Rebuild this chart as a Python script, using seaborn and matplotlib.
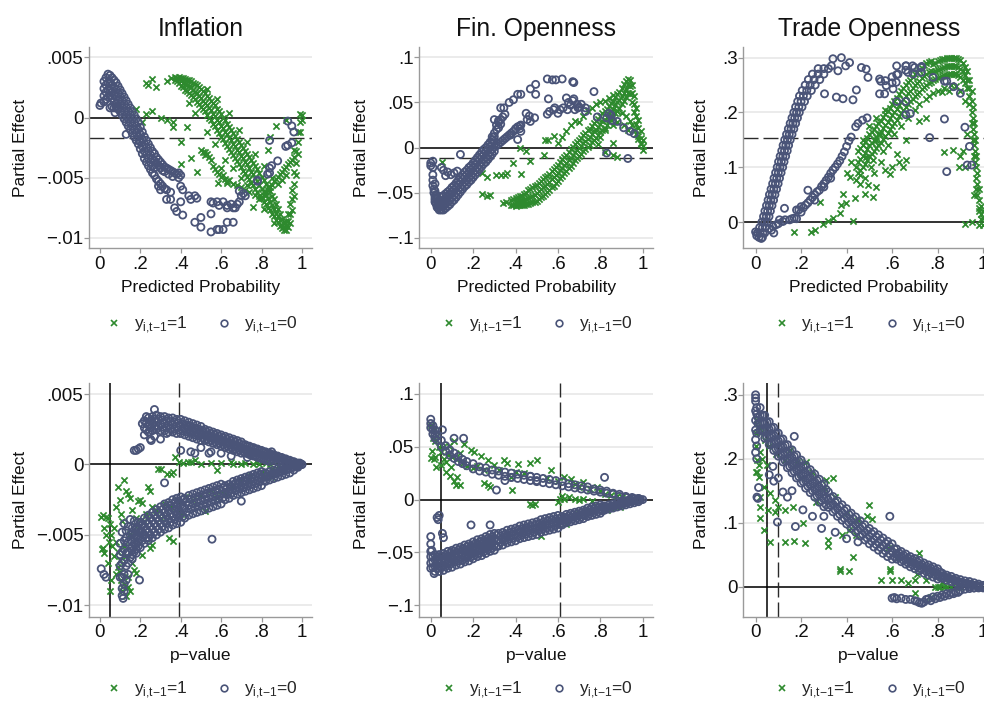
import matplotlib
matplotlib.use("Agg")
import matplotlib.pyplot as plt
import numpy as np
import pandas as pd
import seaborn as sns
from matplotlib.lines import Line2D

GREEN = "#2e8a2e"
NAVY = "#4a5478"

# ---------------- Panel 1: Inflation vs predicted probability ----------------
inf_pp_0_band = [
 (0.02,0.0030),(0.02,0.0024),(0.02,0.0018),(0.02,0.0013),
 (0.03,0.0033),(0.03,0.0027),(0.03,0.0021),(0.03,0.0015),
 (0.04,0.0036),(0.04,0.0029),(0.04,0.0023),(0.04,0.0017),
 (0.05,0.0035),(0.05,0.0029),(0.05,0.0023),(0.05,0.0018),
 (0.06,0.0033),(0.06,0.0027),(0.06,0.0021),(0.06,0.0016),
 (0.07,0.0031),(0.07,0.0025),(0.07,0.0019),(0.07,0.0013),
 (0.08,0.0029),(0.08,0.0023),(0.08,0.0017),(0.08,0.0011),
 (0.09,0.0026),(0.09,0.0020),(0.09,0.0014),(0.09,0.0008),
 (0.10,0.0023),(0.10,0.0017),(0.10,0.0011),(0.10,0.0005),
 (0.11,0.0020),(0.11,0.0014),(0.11,0.0008),(0.11,0.0002),
 (0.12,0.0017),(0.12,0.0011),(0.12,0.0005),(0.12,-0.0001),
 (0.13,0.0014),(0.13,0.0008),(0.13,0.0002),(0.13,-0.0004),
 (0.14,0.0011),(0.14,0.0005),(0.14,-0.0001),(0.14,-0.0007),
 (0.15,0.0008),(0.15,0.0002),(0.15,-0.0004),(0.15,-0.0010),
 (0.16,0.0005),(0.16,-0.0001),(0.16,-0.0007),(0.16,-0.0013),
 (0.17,0.0002),(0.17,-0.0004),(0.17,-0.0010),(0.17,-0.0016),
 (0.18,-0.0001),(0.18,-0.0007),(0.18,-0.0013),(0.18,-0.0019),
 (0.19,-0.0004),(0.19,-0.0010),(0.19,-0.0016),(0.19,-0.0022),
 (0.20,-0.0008),(0.20,-0.0014),(0.20,-0.0020),(0.20,-0.0026),
 (0.21,-0.0012),(0.21,-0.0018),(0.21,-0.0024),(0.21,-0.0030),
 (0.22,-0.0016),(0.22,-0.0022),(0.22,-0.0028),(0.22,-0.0034),
 (0.23,-0.0019),(0.23,-0.0025),(0.23,-0.0031),(0.23,-0.0037),
 (0.24,-0.0022),(0.24,-0.0028),(0.24,-0.0034),(0.24,-0.0040),
 (0.25,-0.0025),(0.25,-0.0031),(0.25,-0.0037),(0.25,-0.0043),
 (0.26,-0.0028),(0.26,-0.0034),(0.26,-0.0040),(0.26,-0.0046),
 (0.27,-0.0030),(0.27,-0.0036),(0.27,-0.0042),(0.27,-0.0048),
 (0.28,-0.0033),(0.28,-0.0038),(0.29,-0.0035),(0.29,-0.0040),(0.30,-0.0037),(0.30,-0.0042),
 (0.31,-0.0039),(0.31,-0.0044),(0.32,-0.0041),(0.32,-0.0045),(0.33,-0.0042),(0.34,-0.0043),
 (0.34,-0.0047),(0.35,-0.0044),(0.36,-0.0045),(0.36,-0.0049),(0.37,-0.0046),(0.38,-0.0047),
 (0.39,-0.0046),(0.39,-0.0050),(0.40,-0.0048),
 (0.28,-0.0051),(0.29,-0.0053),(0.30,-0.0055),(0.31,-0.0057),(0.32,-0.0059),(0.33,-0.0060),
]
inf_pp_0_spread = [
 (0.00,0.0010),(0.005,0.0012),(0.05,0.0008),(0.06,0.0009),(0.07,0.0008),(0.08,0.0009),
 (0.09,0.0007),(0.075,0.0004),(0.13,-0.0014),
 (0.29,-0.0057),(0.30,-0.0060),(0.35,-0.0062),(0.33,-0.0068),(0.35,-0.0068),(0.40,-0.0070),
 (0.37,-0.0075),(0.38,-0.0078),(0.41,-0.0081),(0.40,-0.0057),(0.41,-0.0060),(0.47,-0.0087),
 (0.50,-0.0083),(0.50,-0.0091),(0.44,-0.0065),(0.45,-0.0068),(0.47,-0.0065),(0.48,-0.0067),
 (0.55,-0.0095),(0.58,-0.0093),(0.59,-0.0093),(0.61,-0.0093),(0.55,-0.0080),(0.55,-0.0070),
 (0.56,-0.0071),(0.58,-0.0070),(0.59,-0.0073),(0.61,-0.0070),(0.63,-0.0073),(0.63,-0.0075),
 (0.65,-0.0072),(0.66,-0.0075),(0.67,-0.0075),(0.68,-0.0072),(0.69,-0.0070),(0.63,-0.0087),
 (0.66,-0.0087),(0.69,-0.0061),(0.70,-0.0065),(0.72,-0.0065),(0.71,-0.0063),(0.78,-0.0053),
 (0.78,-0.0052),(0.83,-0.0047),(0.84,-0.0046),(0.84,-0.0042),(0.85,-0.0040),(0.88,-0.0036),
 (0.84,-0.0019),(0.92,-0.0024),(0.93,-0.0023),(0.95,-0.0021),(0.93,-0.0003),(0.95,-0.0007),
 (0.96,-0.0012),
]
inf_pp_1_band = [
 (0.37,0.0034),(0.37,0.0031),(0.38,0.0033),(0.38,0.0030),(0.39,0.0034),(0.39,0.0029),
 (0.40,0.0033),(0.40,0.0030),(0.40,0.0026),(0.41,0.0033),(0.41,0.0029),(0.41,0.0025),
 (0.42,0.0032),(0.42,0.0028),(0.42,0.0023),(0.43,0.0031),(0.43,0.0027),(0.43,0.0022),
 (0.44,0.0031),(0.44,0.0026),(0.44,0.0020),(0.45,0.0030),(0.45,0.0025),(0.45,0.0019),
 (0.46,0.0029),(0.46,0.0023),(0.46,0.0017),(0.47,0.0028),(0.47,0.0021),(0.47,0.0015),
 (0.48,0.0027),(0.48,0.0020),(0.48,0.0013),(0.49,0.0025),(0.49,0.0018),(0.49,0.0011),
 (0.50,0.0024),(0.50,0.0016),(0.50,0.0009),(0.51,0.0022),(0.51,0.0014),(0.51,0.0007),
 (0.52,0.0020),(0.52,0.0012),(0.52,0.0005),(0.53,0.0018),(0.53,0.0010),(0.53,0.0002),
 (0.54,0.0016),(0.54,0.0008),(0.54,0.0000),(0.55,0.0014),(0.55,0.0006),(0.55,-0.0002),
 (0.56,0.0012),(0.56,0.0003),(0.56,-0.0005),(0.57,0.0010),(0.57,0.0001),(0.57,-0.0007),
 (0.58,0.0007),(0.58,-0.0002),(0.58,-0.0010),(0.59,0.0005),(0.59,-0.0004),(0.59,-0.0013),
 (0.60,0.0003),(0.60,-0.0007),(0.60,-0.0016),(0.61,0.0000),(0.61,-0.0009),(0.61,-0.0018),
 (0.62,-0.0002),(0.62,-0.0012),(0.62,-0.0021),(0.63,-0.0005),(0.63,-0.0014),(0.63,-0.0024),
 (0.64,-0.0008),(0.64,-0.0017),(0.64,-0.0026),(0.65,-0.0010),(0.65,-0.0019),(0.65,-0.0029),
 (0.66,-0.0013),(0.66,-0.0022),(0.66,-0.0031),(0.67,-0.0015),(0.67,-0.0024),(0.67,-0.0034),
 (0.68,-0.0018),(0.68,-0.0027),(0.68,-0.0036),(0.69,-0.0020),(0.69,-0.0029),(0.69,-0.0039),
 (0.70,-0.0023),(0.70,-0.0032),(0.70,-0.0041),(0.71,-0.0025),(0.71,-0.0034),(0.71,-0.0044),
 (0.72,-0.0028),(0.72,-0.0037),(0.72,-0.0046),(0.73,-0.0030),(0.73,-0.0039),(0.73,-0.0049),
 (0.74,-0.0033),(0.74,-0.0042),(0.74,-0.0051),(0.75,-0.0035),(0.75,-0.0045),(0.75,-0.0054),
 (0.76,-0.0038),(0.76,-0.0047),(0.76,-0.0056),(0.77,-0.0040),(0.77,-0.0050),(0.77,-0.0059),
 (0.78,-0.0043),(0.78,-0.0053),(0.78,-0.0062),(0.79,-0.0046),(0.79,-0.0056),(0.79,-0.0065),
 (0.80,-0.0049),(0.80,-0.0059),(0.80,-0.0067),(0.81,-0.0052),(0.81,-0.0062),(0.81,-0.0070),
 (0.82,-0.0055),(0.82,-0.0064),(0.82,-0.0072),(0.83,-0.0058),(0.83,-0.0067),(0.83,-0.0075),
 (0.84,-0.0061),(0.84,-0.0070),(0.84,-0.0077),(0.85,-0.0065),(0.85,-0.0073),(0.85,-0.0080),
 (0.86,-0.0068),(0.86,-0.0076),(0.86,-0.0082),(0.87,-0.0072),(0.87,-0.0079),(0.87,-0.0085),
 (0.88,-0.0076),(0.88,-0.0082),(0.88,-0.0087),(0.89,-0.0080),(0.89,-0.0085),(0.89,-0.0090),
 (0.90,-0.0084),(0.90,-0.0089),(0.90,-0.0092),(0.91,-0.0087),(0.91,-0.0091),(0.91,-0.0093),
 (0.92,-0.0086),(0.92,-0.0090),(0.92,-0.0093),(0.93,-0.0080),(0.93,-0.0086),(0.93,-0.0091),
 (0.94,-0.0072),(0.94,-0.0080),(0.94,-0.0088),(0.95,-0.0060),(0.95,-0.0068),(0.95,-0.0077),
 (0.96,-0.0045),(0.96,-0.0055),(0.96,-0.0065),(0.97,-0.0028),(0.97,-0.0038),(0.97,-0.0048),
 (0.98,-0.0012),(0.98,-0.0020),(0.98,-0.0030),(0.99,0.0003),(0.99,-0.0004),(0.99,-0.0012),
 (1.00,0.0002),(1.00,-0.0002),
 (0.50,-0.0027),(0.51,-0.0029),(0.52,-0.0031),(0.53,-0.0030),(0.54,-0.0033),(0.55,-0.0035),
 (0.56,-0.0040),(0.57,-0.0043),(0.58,-0.0045),(0.59,-0.0047),(0.60,-0.0049),(0.61,-0.0048),
 (0.62,-0.0051),(0.63,-0.0053),(0.64,-0.0052),(0.66,-0.0055),(0.68,-0.0056),(0.70,-0.0058),
 (0.72,-0.0060),(0.74,-0.0062),
 (0.79,-0.0068),(0.80,-0.0066),(0.81,-0.0064),(0.82,-0.0062),(0.83,-0.0060),(0.84,-0.0058),
 (0.85,-0.0056),(0.86,-0.0053),(0.87,-0.0051),(0.88,-0.0049),(0.89,-0.0047),(0.90,-0.0045),
 (0.91,-0.0043),(0.92,-0.0041),(0.93,-0.0039),(0.94,-0.0037),(0.95,-0.0035),(0.96,-0.0033),
 (0.85,-0.0050),(0.88,-0.0055),(0.90,-0.0052),(0.92,-0.0048),
]
inf_pp_1_spread = [
 (0.23,0.0029),(0.26,0.0032),(0.28,0.0025),(0.24,0.0027),(0.18,0.0007),(0.21,-0.0004),
 (0.23,0.0003),(0.26,0.0005),(0.30,0.0000),(0.33,-0.0002),(0.36,-0.0004),(0.36,-0.0008),
 (0.43,-0.0008),(0.40,-0.0020),(0.40,-0.0039),(0.45,-0.0034),(0.48,-0.0045),(0.52,-0.0029),
 (0.585,-0.0054),(0.63,-0.0054),(0.60,-0.0042),(0.76,-0.0074),(0.83,-0.0027),(0.87,-0.0007),
 (0.84,-0.0016),(0.92,-0.0002),(0.96,-0.0027),(0.35,0.0033),(0.33,0.0030),
 (0.44,0.0012),(0.47,0.0004),(0.53,-0.0012),(0.57,-0.0022),(0.62,-0.0035),(0.66,-0.0042),
 (0.70,-0.0050),(0.73,-0.0056),(0.77,-0.0064),(0.81,-0.0076),(0.86,-0.0088),(0.53,0.0024),
 (0.58,0.0015),(0.64,0.0004),(0.69,-0.0010),(0.73,-0.0020),(0.77,-0.0030),(0.81,-0.0040),
]

# ---------------- Panel 2: Fin. Openness vs predicted probability ----------------
fin_pp_0_band = [
 (0.00,-0.017),(0.00,-0.020),(0.01,-0.015),(0.01,-0.022),(0.01,-0.030),(0.01,-0.036),
 (0.01,-0.042),(0.015,-0.046),(0.015,-0.050),(0.02,-0.054),(0.02,-0.057),(0.02,-0.060),
 (0.025,-0.062),(0.03,-0.064),(0.03,-0.066),(0.035,-0.067),(0.04,-0.069),(0.02,-0.048),
 (0.02,-0.040),(0.025,-0.052),(0.03,-0.056),(0.035,-0.059),(0.04,-0.062),
 (0.05,-0.054),(0.05,-0.059),(0.05,-0.065),(0.05,-0.069),
 (0.06,-0.053),(0.06,-0.058),(0.06,-0.064),(0.06,-0.069),
 (0.07,-0.051),(0.07,-0.056),(0.07,-0.062),(0.07,-0.067),
 (0.08,-0.049),(0.08,-0.054),(0.08,-0.060),(0.08,-0.065),
 (0.09,-0.047),(0.09,-0.052),(0.09,-0.058),(0.09,-0.063),
 (0.10,-0.044),(0.10,-0.049),(0.10,-0.055),(0.10,-0.060),
 (0.11,-0.042),(0.11,-0.047),(0.11,-0.053),(0.11,-0.058),
 (0.12,-0.039),(0.12,-0.044),(0.12,-0.050),(0.12,-0.055),
 (0.13,-0.036),(0.13,-0.041),(0.13,-0.047),(0.13,-0.052),
 (0.14,-0.033),(0.14,-0.038),(0.14,-0.044),(0.14,-0.049),
 (0.15,-0.030),(0.15,-0.035),(0.15,-0.041),(0.15,-0.046),
 (0.16,-0.027),(0.16,-0.032),(0.16,-0.038),(0.16,-0.043),
 (0.17,-0.025),(0.17,-0.030),(0.17,-0.036),(0.17,-0.041),
 (0.18,-0.022),(0.18,-0.027),(0.18,-0.033),(0.18,-0.038),
 (0.19,-0.020),(0.19,-0.025),(0.19,-0.031),(0.19,-0.036),
 (0.20,-0.017),(0.20,-0.022),(0.20,-0.028),(0.20,-0.033),
 (0.21,-0.014),(0.21,-0.019),(0.21,-0.025),(0.21,-0.030),
 (0.22,-0.011),(0.22,-0.016),(0.22,-0.022),(0.22,-0.027),
 (0.23,-0.008),(0.23,-0.013),(0.23,-0.019),(0.23,-0.024),
 (0.24,-0.005),(0.24,-0.010),(0.24,-0.016),(0.24,-0.021),
 (0.25,-0.002),(0.25,-0.007),(0.25,-0.013),(0.25,-0.018),
 (0.26,0.000),(0.26,-0.005),(0.26,-0.011),(0.26,-0.016),
 (0.27,0.003),(0.27,-0.002),(0.27,-0.008),(0.27,-0.013),
 (0.28,0.006),(0.28,0.001),(0.28,-0.005),(0.28,-0.010),
 (0.29,0.009),(0.29,0.004),(0.29,-0.002),(0.29,-0.007),
 (0.30,0.012),(0.30,0.007),(0.30,0.001),(0.30,-0.004),
 (0.29,0.012),(0.30,0.016),(0.31,0.020),(0.31,0.025),(0.32,0.028),(0.32,0.022),
 (0.33,0.031),(0.33,0.026),(0.34,0.034),(0.35,0.037),
 (0.31,0.002),(0.32,0.004),(0.33,0.006),(0.34,0.008),(0.35,0.010),(0.36,0.012),
 (0.37,0.014),(0.38,0.016),(0.39,0.018),(0.40,0.021),(0.41,0.023),(0.42,0.024),
]
fin_pp_0_spread = [
 (0.05,-0.022),(0.06,-0.025),(0.08,-0.027),(0.095,-0.030),(0.11,-0.028),(0.125,-0.026),
 (0.14,-0.0075),(0.07,-0.031),
 (0.30,0.031),(0.32,0.030),(0.33,0.044),(0.345,0.044),(0.37,0.050),(0.39,0.053),(0.41,0.059),
 (0.425,0.059),(0.47,0.065),(0.495,0.070),(0.495,0.059),(0.55,0.076),(0.574,0.075),(0.59,0.075),
 (0.62,0.076),(0.67,0.073),(0.675,0.072),(0.555,0.054),(0.64,0.055),(0.65,0.050),(0.67,0.052),
 (0.675,0.054),(0.69,0.048),(0.71,0.048),(0.73,0.044),(0.73,0.040),(0.77,0.062),(0.55,0.037),
 (0.56,0.040),(0.58,0.042),(0.585,0.044),(0.61,0.042),(0.625,0.044),(0.645,0.042),(0.68,0.042),
 (0.695,0.044),(0.45,0.038),(0.465,0.035),(0.49,0.033),(0.47,0.029),(0.455,0.031),(0.425,0.025),
 (0.42,0.021),(0.425,0.018),(0.41,0.009),(0.377,0.014),(0.60,0.038),(0.66,0.047),(0.70,0.045),
 (0.786,0.034),(0.83,0.033),(0.856,0.030),(0.88,0.029),(0.91,0.022),(0.94,0.018),(0.96,0.0155),
 (0.83,-0.006),(0.93,-0.012),(0.85,0.036),(0.84,0.038),
]
fin_pp_1_band = [
 (0.38,-0.058),(0.38,-0.063),(0.39,-0.057),(0.39,-0.064),(0.40,-0.056),(0.40,-0.060),(0.40,-0.065),
 (0.41,-0.055),(0.41,-0.060),(0.41,-0.064),(0.42,-0.054),(0.42,-0.059),(0.42,-0.064),
 (0.43,-0.053),(0.43,-0.059),(0.43,-0.063),(0.44,-0.051),(0.44,-0.058),(0.44,-0.063),
 (0.45,-0.050),(0.45,-0.057),(0.45,-0.062),
 (0.46,-0.047),(0.46,-0.056),(0.46,-0.062),(0.47,-0.046),(0.47,-0.055),(0.47,-0.061),
 (0.48,-0.044),(0.48,-0.053),(0.48,-0.060),(0.49,-0.043),(0.49,-0.052),(0.49,-0.060),
 (0.50,-0.041),(0.50,-0.050),(0.50,-0.059),(0.51,-0.039),(0.51,-0.048),(0.51,-0.057),
 (0.52,-0.037),(0.52,-0.046),(0.52,-0.055),(0.53,-0.035),(0.53,-0.044),(0.53,-0.053),
 (0.54,-0.033),(0.54,-0.042),(0.54,-0.051),(0.55,-0.031),(0.55,-0.040),(0.55,-0.049),
 (0.56,-0.029),(0.56,-0.038),(0.56,-0.047),(0.57,-0.026),(0.57,-0.035),(0.57,-0.044),
 (0.58,-0.024),(0.58,-0.033),(0.58,-0.042),(0.59,-0.021),(0.59,-0.030),(0.59,-0.039),
 (0.60,-0.019),(0.60,-0.028),(0.60,-0.037),(0.61,-0.016),(0.61,-0.025),(0.61,-0.034),
 (0.62,-0.013),(0.62,-0.022),(0.62,-0.031),(0.63,-0.010),(0.63,-0.019),(0.63,-0.028),
 (0.64,-0.008),(0.64,-0.017),(0.64,-0.026),(0.65,-0.005),(0.65,-0.014),(0.65,-0.023),
 (0.66,-0.002),(0.66,-0.011),(0.66,-0.020),(0.67,0.001),(0.67,-0.008),(0.67,-0.017),
 (0.68,0.004),(0.68,-0.005),(0.68,-0.014),(0.69,0.006),(0.69,-0.003),(0.69,-0.012),
 (0.70,0.009),(0.70,0.000),(0.70,-0.009),(0.71,0.011),(0.71,0.002),(0.71,-0.007),
 (0.72,0.014),(0.72,0.005),(0.72,-0.004),(0.73,0.016),(0.73,0.007),(0.73,-0.002),
 (0.74,0.019),(0.74,0.010),(0.74,0.001),(0.75,0.021),(0.75,0.012),(0.75,0.003),
 (0.76,0.024),(0.76,0.015),(0.76,0.006),(0.77,0.027),(0.77,0.018),(0.77,0.009),
 (0.78,0.029),(0.78,0.020),(0.78,0.011),(0.79,0.032),(0.79,0.023),(0.79,0.014),
 (0.80,0.035),(0.80,0.026),(0.80,0.017),(0.81,0.038),(0.81,0.029),(0.81,0.020),
 (0.82,0.040),(0.82,0.031),(0.82,0.022),(0.83,0.043),(0.83,0.034),(0.83,0.025),
 (0.84,0.046),(0.84,0.037),(0.84,0.028),(0.85,0.049),(0.85,0.040),(0.85,0.031),
 (0.86,0.052),(0.86,0.043),(0.86,0.034),(0.87,0.056),(0.87,0.047),(0.87,0.038),
 (0.88,0.059),(0.88,0.050),(0.88,0.041),(0.89,0.062),(0.89,0.053),(0.89,0.044),
 (0.90,0.066),(0.90,0.057),(0.90,0.048),(0.91,0.070),(0.91,0.061),(0.91,0.052),
 (0.92,0.074),(0.92,0.065),(0.92,0.056),(0.93,0.076),(0.93,0.069),(0.93,0.060),
 (0.94,0.075),(0.94,0.068),(0.94,0.059),(0.95,0.069),(0.95,0.060),(0.95,0.051),
 (0.96,0.057),(0.96,0.048),(0.96,0.039),(0.97,0.044),(0.97,0.035),(0.97,0.026),
 (0.98,0.031),(0.98,0.022),(0.98,0.013),(0.99,0.018),(0.99,0.011),(0.99,0.004),
 (1.00,0.008),(1.00,0.002),(1.00,-0.003),
]
fin_pp_1_spread = [
 (0.055,-0.016),(0.244,-0.028),(0.267,-0.032),(0.31,-0.030),(0.33,-0.030),(0.35,-0.030),
 (0.36,-0.028),(0.425,-0.029),(0.244,-0.051),(0.267,-0.054),(0.28,-0.052),(0.34,-0.061),
 (0.355,-0.060),(0.42,-0.0003),(0.45,-0.004),(0.39,-0.017),(0.47,-0.015),(0.535,-0.0077),
 (0.54,0.009),(0.555,0.008),(0.58,0.013),(0.60,0.005),(0.62,0.012),(0.64,0.018),(0.66,0.025),
 (0.68,0.030),(0.70,0.028),(0.72,0.035),(0.74,0.040),(0.76,0.044),(0.78,0.048),(0.80,0.050),
 (0.82,0.052),(0.84,0.055),(0.86,0.058),(0.85,0.035),(0.88,0.040),(0.90,0.038),(0.92,0.035),
 (0.94,0.030),(0.95,0.025),(0.96,0.020),(0.97,0.015),(0.98,0.010),(0.99,0.005),(0.88,0.028),
 (0.91,0.025),(0.93,0.020),(0.86,0.025),(0.82,0.020),(0.80,0.012),(0.79,0.004),(0.82,-0.005),
 (0.86,0.0055),(0.86,-0.008),(0.88,-0.010),
]

# ---------------- Panel 3: Trade Openness vs predicted probability ----------------
trd_pp_0_band = [
 (0.008,-0.02),(0.020,-0.02),(0.032,-0.02),(0.018,-0.01),(0.030,-0.01),(0.042,-0.01),
 (0.028,0.00),(0.040,0.00),(0.052,0.00),(0.035,0.01),(0.047,0.01),(0.059,0.01),
 (0.041,0.02),(0.053,0.02),(0.065,0.02),(0.048,0.03),(0.060,0.03),(0.072,0.03),
 (0.055,0.04),(0.067,0.04),(0.079,0.04),(0.061,0.05),(0.073,0.05),(0.085,0.05),
 (0.068,0.06),(0.080,0.06),(0.092,0.06),(0.075,0.07),(0.087,0.07),(0.099,0.07),
 (0.081,0.08),(0.093,0.08),(0.105,0.08),(0.088,0.09),(0.100,0.09),(0.112,0.09),
 (0.095,0.10),(0.107,0.10),(0.119,0.10),(0.101,0.11),(0.113,0.11),(0.125,0.11),
 (0.108,0.12),(0.120,0.12),(0.132,0.12),(0.115,0.13),(0.127,0.13),(0.139,0.13),
 (0.121,0.14),(0.133,0.14),(0.145,0.14),(0.128,0.15),(0.140,0.15),(0.152,0.15),
 (0.136,0.16),(0.148,0.16),(0.160,0.16),(0.144,0.17),(0.156,0.17),(0.168,0.17),
 (0.152,0.18),(0.164,0.18),(0.176,0.18),(0.160,0.19),(0.172,0.19),(0.184,0.19),
 (0.168,0.20),(0.180,0.20),(0.192,0.20),(0.176,0.21),(0.190,0.21),(0.204,0.21),
 (0.185,0.22),(0.200,0.22),(0.215,0.22),(0.193,0.23),(0.210,0.23),(0.227,0.23),
 (0.205,0.24),(0.225,0.24),(0.245,0.24),(0.218,0.25),(0.240,0.25),(0.262,0.25),
 (0.232,0.26),(0.257,0.26),(0.282,0.26),(0.250,0.27),(0.275,0.27),(0.300,0.27),
 (0.275,0.28),(0.300,0.28),(0.320,0.28),
 (0.01,-0.02),(0.00,-0.018),(0.005,-0.025),(0.015,-0.028),(0.025,-0.030),(0.03,-0.028),
 (0.04,-0.020),(0.07,-0.015),(0.08,-0.020),(0.06,-0.012),
]
trd_pp_0_branch = [
 (0.076,-0.008),(0.09,-0.005),(0.10,-0.003),(0.12,0.001),(0.13,0.004),(0.15,0.004),
 (0.16,0.006),(0.17,0.007),(0.18,0.006),(0.105,0.004),(0.19,0.022),(0.20,0.028),(0.21,0.026),
 (0.22,0.031),(0.23,0.035),(0.24,0.040),(0.25,0.045),(0.26,0.050),(0.27,0.055),(0.28,0.058),
 (0.29,0.065),(0.30,0.070),(0.31,0.076),(0.32,0.082),(0.33,0.089),(0.34,0.095),(0.35,0.100),
 (0.36,0.106),(0.37,0.112),(0.38,0.120),(0.39,0.128),(0.40,0.138),(0.41,0.148),(0.42,0.155),
 (0.44,0.174),(0.45,0.180),(0.47,0.186),(0.127,0.025),(0.23,0.058),(0.18,0.022),(0.20,0.018),
 (0.26,0.040),(0.30,0.064),(0.33,0.080),
]
trd_pp_0_spread = [
 (0.34,0.298),(0.377,0.300),(0.413,0.291),(0.396,0.285),(0.333,0.285),(0.362,0.276),
 (0.303,0.234),(0.355,0.228),(0.384,0.225),(0.428,0.223),(0.443,0.241),(0.465,0.282),
 (0.486,0.279),(0.494,0.264),(0.545,0.261),(0.574,0.249),(0.545,0.234),(0.567,0.234),
 (0.604,0.243),(0.618,0.255),(0.626,0.270),(0.662,0.285),(0.670,0.273),(0.699,0.282),
 (0.728,0.282),(0.728,0.273),(0.692,0.270),(0.62,0.285),(0.66,0.285),(0.69,0.285),
 (0.73,0.284),(0.66,0.277),(0.62,0.269),(0.60,0.265),(0.57,0.258),(0.55,0.257),(0.60,0.254),
 (0.62,0.220),(0.66,0.220),(0.66,0.196),(0.68,0.198),(0.765,0.154),(0.84,0.092),(0.83,0.188),
 (0.83,0.257),(0.84,0.257),(0.78,0.264),(0.87,0.247),(0.90,0.235),(0.92,0.173),(0.94,0.138),
 (0.95,0.104),(0.93,0.104),(0.49,0.190),
]
trd_pp_1_band = [
 (0.45,0.130),(0.45,0.110),(0.45,0.090),(0.46,0.135),(0.46,0.115),(0.46,0.095),
 (0.47,0.140),(0.47,0.120),(0.47,0.100),(0.48,0.146),(0.48,0.126),(0.48,0.106),
 (0.49,0.153),(0.49,0.133),(0.49,0.113),(0.50,0.160),(0.50,0.140),(0.50,0.120),
 (0.51,0.165),(0.51,0.145),(0.51,0.125),(0.52,0.170),(0.52,0.150),(0.52,0.130),
 (0.53,0.175),(0.53,0.155),(0.53,0.135),(0.54,0.180),(0.54,0.160),(0.54,0.140),
 (0.55,0.185),(0.55,0.165),(0.55,0.145),(0.56,0.191),(0.56,0.171),(0.56,0.151),
 (0.57,0.197),(0.57,0.177),(0.57,0.157),(0.58,0.203),(0.58,0.183),(0.58,0.163),
 (0.59,0.209),(0.59,0.189),(0.59,0.169),(0.60,0.215),(0.60,0.195),(0.60,0.175),
 (0.61,0.221),(0.61,0.201),(0.61,0.181),(0.62,0.227),(0.62,0.207),(0.62,0.187),
 (0.63,0.233),(0.63,0.213),(0.63,0.193),(0.64,0.239),(0.64,0.219),(0.64,0.199),
 (0.65,0.245),(0.65,0.225),(0.65,0.205),(0.66,0.250),(0.66,0.230),(0.66,0.210),
 (0.67,0.255),(0.67,0.235),(0.67,0.215),(0.68,0.260),(0.68,0.240),(0.68,0.220),
 (0.69,0.265),(0.69,0.245),(0.69,0.225),(0.70,0.270),(0.70,0.250),(0.70,0.230),
 (0.71,0.274),(0.71,0.254),(0.71,0.234),(0.72,0.278),(0.72,0.258),(0.72,0.238),
 (0.73,0.282),(0.73,0.262),(0.73,0.242),(0.74,0.286),(0.74,0.266),(0.74,0.246),
 (0.75,0.290),(0.75,0.270),(0.75,0.250),(0.76,0.292),(0.76,0.273),(0.76,0.253),
 (0.77,0.294),(0.77,0.276),(0.77,0.256),(0.78,0.289),(0.78,0.274),(0.78,0.259),
 (0.79,0.291),(0.79,0.276),(0.79,0.261),(0.80,0.293),(0.80,0.278),(0.80,0.263),
 (0.81,0.295),(0.81,0.280),(0.81,0.265),(0.82,0.297),(0.82,0.282),(0.82,0.267),
 (0.83,0.298),(0.83,0.283),(0.83,0.268),(0.84,0.299),(0.84,0.284),(0.84,0.269),
 (0.85,0.300),(0.85,0.285),(0.85,0.270),(0.86,0.300),(0.86,0.285),(0.86,0.270),
 (0.87,0.300),(0.87,0.285),(0.87,0.270),(0.88,0.300),(0.88,0.285),(0.88,0.270),
 (0.89,0.298),(0.89,0.283),(0.89,0.268),(0.90,0.295),(0.90,0.280),(0.90,0.265),
 (0.91,0.290),(0.91,0.275),(0.91,0.260),(0.92,0.283),(0.92,0.268),(0.92,0.253),
 (0.93,0.275),(0.93,0.260),(0.93,0.245),
 (0.94,0.260),(0.94,0.245),(0.94,0.230),(0.94,0.215),(0.95,0.240),(0.95,0.220),(0.95,0.200),
 (0.95,0.180),(0.955,0.210),(0.955,0.190),(0.955,0.170),(0.955,0.150),(0.96,0.180),(0.96,0.160),
 (0.96,0.140),(0.96,0.120),(0.965,0.150),(0.965,0.130),(0.965,0.110),(0.97,0.120),(0.97,0.100),
 (0.97,0.080),(0.975,0.090),(0.975,0.070),(0.975,0.050),(0.98,0.060),(0.98,0.040),(0.98,0.025),
 (0.99,0.030),(0.99,0.015),(0.99,0.005),(1.00,0.020),(1.00,0.008),(1.00,-0.005),
 (0.72,0.215),(0.75,0.225),(0.78,0.235),(0.80,0.240),(0.83,0.245),(0.86,0.250),(0.88,0.248),
 (0.90,0.240),(0.92,0.220),(0.76,0.230),(0.82,0.238),(0.85,0.240),
]
trd_pp_1_spread = [
 (0.171,-0.018),(0.245,-0.018),(0.26,-0.015),(0.281,0.037),(0.296,-0.0045),(0.318,0.0015),
 (0.34,0.0076),(0.369,0.016),(0.377,0.031),(0.384,0.052),(0.398,0.034),(0.428,0.0015),
 (0.435,0.043),(0.413,0.082),(0.443,0.076),(0.457,0.085),(0.479,0.052),(0.494,0.067),
 (0.516,0.046),(0.53,0.064),(0.486,0.119),(0.516,0.113),(0.508,0.100),(0.53,0.149),
 (0.545,0.161),(0.567,0.204),(0.62,0.125),(0.65,0.100),(0.66,0.113),(0.72,0.185),(0.75,0.190),
 (0.66,0.149),(0.59,0.088),(0.60,0.100),(0.63,0.110),(0.83,0.128),(0.867,0.131),(0.896,0.100),
 (0.93,0.160),(0.90,0.120),(0.91,0.130),(0.92,0.100),(0.95,0.000),(0.92,-0.003),(0.96,0.050),
 (0.97,0.060),(0.98,0.020),(0.98,-0.005),(0.40,0.090),(0.42,0.110),(0.46,0.070),
 (0.47,0.150),(0.50,0.175),(0.53,0.190),(0.56,0.130),(0.58,0.140),(0.61,0.160),(0.64,0.175),
 (0.67,0.190),(0.70,0.205),(0.55,0.110),(0.57,0.095),(0.52,0.090),(0.44,0.100),(0.48,0.080),
]

# ---------------- Panel 4: Inflation vs p-value ----------------
inf_pv_0_upper = [
 (0.22,0.0031),(0.22,0.0026),(0.22,0.0021),(0.24,0.0033),(0.24,0.0028),(0.24,0.0023),
 (0.26,0.0034),(0.26,0.0029),(0.26,0.0024),(0.28,0.0035),(0.28,0.0030),(0.28,0.0025),
 (0.30,0.0034),(0.30,0.0029),(0.30,0.0024),(0.32,0.0034),(0.32,0.0029),(0.32,0.0024),
 (0.34,0.0033),(0.34,0.0028),(0.34,0.0023),(0.36,0.0033),(0.36,0.0028),(0.36,0.0023),
 (0.38,0.0032),(0.38,0.0027),(0.38,0.0022),(0.40,0.0032),(0.40,0.0027),(0.40,0.0022),
 (0.42,0.0031),(0.42,0.0026),(0.42,0.0021),(0.44,0.0030),(0.44,0.0025),(0.44,0.0020),
 (0.46,0.0029),(0.46,0.0024),(0.46,0.0019),(0.48,0.0028),(0.48,0.0023),(0.48,0.0018),
 (0.50,0.0027),(0.50,0.0022),(0.50,0.0017),(0.52,0.0025),(0.52,0.0021),(0.52,0.0017),
 (0.54,0.0024),(0.54,0.0020),(0.54,0.0016),(0.56,0.0023),(0.56,0.0019),(0.56,0.0015),
 (0.58,0.0022),(0.58,0.0018),(0.58,0.0014),(0.60,0.0021),(0.60,0.0017),(0.60,0.0013),
 (0.62,0.0020),(0.62,0.0016),(0.62,0.0012),(0.64,0.0019),(0.64,0.0015),(0.64,0.0011),
 (0.66,0.0018),(0.66,0.0014),(0.66,0.0010),(0.68,0.0017),(0.68,0.0013),(0.68,0.0009),
 (0.70,0.0016),(0.70,0.0012),(0.70,0.0008),(0.72,0.0014),(0.72,0.0011),(0.72,0.0008),
 (0.74,0.0013),(0.74,0.0010),(0.74,0.0007),(0.76,0.0012),(0.76,0.0009),(0.76,0.0006),
 (0.78,0.0011),(0.78,0.0008),(0.78,0.0005),(0.80,0.0010),(0.80,0.0007),(0.80,0.0004),
 (0.82,0.0009),(0.82,0.0006),(0.82,0.0003),(0.84,0.0008),(0.84,0.0005),(0.84,0.0002),
 (0.86,0.0007),(0.86,0.0005),(0.86,0.0003),(0.88,0.0006),(0.88,0.0004),(0.88,0.0002),
 (0.90,0.0005),(0.90,0.0003),(0.90,0.0001),(0.92,0.0004),(0.92,0.0002),(0.92,0.0000),
 (0.94,0.0003),(0.94,0.0001),(0.96,0.0002),(0.96,0.0000),(0.98,0.0001),(0.98,-0.0001),
 (1.00,0.0000),(0.27,0.0039),(0.23,0.0034),(0.25,0.0018),(0.21,0.0029),
]
inf_pv_0_upper_fill = [
 (0.23,0.00295),(0.23,0.00245),(0.25,0.0031),(0.25,0.0026),(0.27,0.0032),(0.27,0.0027),
 (0.29,0.0032),(0.29,0.0027),(0.31,0.00315),(0.31,0.00265),(0.33,0.0031),(0.33,0.0026),
 (0.35,0.00305),(0.35,0.00255),(0.37,0.0030),(0.37,0.0025),(0.39,0.00295),(0.39,0.00245),
 (0.41,0.0029),(0.41,0.0024),(0.43,0.0028),(0.43,0.0023),(0.45,0.0027),(0.45,0.0022),
 (0.47,0.0026),(0.47,0.0021),(0.49,0.0025),(0.49,0.0020),(0.51,0.0024),(0.51,0.0019),
 (0.53,0.0023),(0.53,0.0018),(0.55,0.0022),(0.55,0.0017),(0.57,0.0021),(0.57,0.0016),
 (0.59,0.0020),(0.59,0.0015),(0.61,0.0019),(0.61,0.0014),(0.63,0.0018),(0.63,0.0013),
 (0.65,0.0017),(0.65,0.0012),(0.67,0.0016),(0.67,0.0011),(0.69,0.0015),(0.69,0.0010),
 (0.71,0.0014),(0.71,0.0009),(0.73,0.0013),(0.73,0.0008),(0.75,0.0012),(0.75,0.0007),
 (0.77,0.0011),(0.77,0.0006),(0.79,0.0010),(0.79,0.0005),(0.81,0.0009),(0.81,0.0004),
 (0.83,0.0008),(0.83,0.0003),(0.85,0.00065),(0.87,0.0006),(0.89,0.0005),(0.91,0.0004),
 (0.93,0.0003),(0.95,0.0002),(0.97,0.0001),(0.99,0.0001),
]
inf_pv_0_lower = [
 (0.16,-0.0049),(0.16,-0.0055),(0.16,-0.0061),(0.16,-0.0067),
 (0.18,-0.0045),(0.18,-0.0051),(0.18,-0.0057),(0.18,-0.0063),
 (0.20,-0.0041),(0.20,-0.0047),(0.20,-0.0053),(0.20,-0.0059),
 (0.22,-0.0038),(0.22,-0.0044),(0.22,-0.0050),(0.22,-0.0056),
 (0.24,-0.0036),(0.24,-0.0042),(0.24,-0.0048),(0.24,-0.0054),
 (0.26,-0.0034),(0.26,-0.0040),(0.26,-0.0046),(0.26,-0.0052),
 (0.28,-0.0032),(0.28,-0.0038),(0.28,-0.0044),(0.28,-0.0050),
 (0.30,-0.0030),(0.30,-0.0036),(0.30,-0.0042),(0.30,-0.0048),
 (0.32,-0.0028),(0.32,-0.0034),(0.32,-0.0040),(0.32,-0.0046),
 (0.34,-0.0027),(0.34,-0.0033),(0.34,-0.0039),(0.34,-0.0045),
 (0.36,-0.0025),(0.36,-0.0031),(0.36,-0.0037),(0.36,-0.0043),
 (0.38,-0.0024),(0.38,-0.0030),(0.38,-0.0036),(0.38,-0.0042),
 (0.40,-0.0023),(0.40,-0.0029),(0.40,-0.0035),(0.40,-0.0041),
 (0.42,-0.0024),(0.42,-0.0031),(0.42,-0.0038),(0.44,-0.0022),(0.44,-0.0029),(0.44,-0.0036),
 (0.46,-0.0021),(0.46,-0.0028),(0.46,-0.0035),(0.48,-0.0020),(0.48,-0.0027),(0.48,-0.0034),
 (0.50,-0.0019),(0.50,-0.0026),(0.50,-0.0033),(0.52,-0.0018),(0.52,-0.0025),(0.52,-0.0032),
 (0.54,-0.0017),(0.54,-0.0024),(0.54,-0.0031),(0.56,-0.0016),(0.56,-0.0023),(0.56,-0.0030),
 (0.58,-0.0015),(0.58,-0.0022),(0.58,-0.0029),(0.60,-0.0014),(0.60,-0.0021),(0.60,-0.0028),
 (0.62,-0.0015),(0.62,-0.0020),(0.62,-0.0025),(0.64,-0.0014),(0.64,-0.0019),(0.64,-0.0024),
 (0.66,-0.0012),(0.66,-0.0017),(0.66,-0.0022),(0.68,-0.0011),(0.68,-0.0016),(0.68,-0.0021),
 (0.70,-0.0010),(0.70,-0.0015),(0.70,-0.0020),(0.72,-0.0009),(0.72,-0.0014),(0.72,-0.0019),
 (0.74,-0.0008),(0.74,-0.0013),(0.74,-0.0018),(0.76,-0.0007),(0.76,-0.0012),(0.76,-0.0017),
 (0.78,-0.0006),(0.78,-0.0011),(0.78,-0.0016),(0.80,-0.0005),(0.80,-0.0010),(0.80,-0.0015),
 (0.82,-0.0006),(0.82,-0.0009),(0.82,-0.0012),(0.84,-0.0005),(0.84,-0.0008),(0.84,-0.0011),
 (0.86,-0.0004),(0.86,-0.0007),(0.86,-0.0010),(0.88,-0.0003),(0.88,-0.0006),(0.88,-0.0009),
 (0.90,-0.0002),(0.90,-0.0005),(0.90,-0.0008),(0.92,-0.0001),(0.92,-0.0004),(0.92,-0.0007),
 (0.94,0.0000),(0.94,-0.0003),(0.94,-0.0006),(0.96,0.0000),(0.96,-0.0002),(0.96,-0.0004),
 (0.98,0.0000),(0.98,-0.0001),(0.98,-0.0002),(1.00,0.0000),
 (0.11,-0.0093),(0.115,-0.0095),(0.12,-0.0090),(0.11,-0.0088),(0.12,-0.0085),(0.10,-0.0080),
 (0.11,-0.0080),(0.12,-0.0078),(0.13,-0.0082),(0.10,-0.0072),(0.11,-0.0070),(0.12,-0.0068),
 (0.13,-0.0072),(0.14,-0.0070),(0.10,-0.0064),(0.11,-0.0062),(0.12,-0.0060),(0.13,-0.0063),
 (0.14,-0.0062),(0.15,-0.0066),(0.16,-0.0064),(0.10,-0.0056),(0.12,-0.0054),(0.14,-0.0055),
 (0.16,-0.0058),(0.18,-0.0060),(0.11,-0.0048),(0.13,-0.0047),(0.15,-0.0050),(0.17,-0.0052),
 (0.19,-0.0055),(0.12,-0.0042),(0.14,-0.0044),(0.16,-0.0045),(0.18,-0.0046),(0.20,-0.0048),
 (0.15,-0.0039),(0.17,-0.0040),(0.19,-0.0041),(0.21,-0.0043),(0.22,-0.0050),(0.24,-0.0052),
 (0.13,-0.0052),(0.14,-0.0078),
]
inf_pv_0_lower_fill = [
 (0.17,-0.0050),(0.17,-0.0056),(0.17,-0.0062),(0.19,-0.0046),(0.19,-0.0052),(0.19,-0.0058),
 (0.21,-0.0042),(0.21,-0.0048),(0.21,-0.0054),(0.23,-0.0040),(0.23,-0.0046),(0.23,-0.0052),
 (0.25,-0.0038),(0.25,-0.0044),(0.25,-0.0050),(0.27,-0.0036),(0.27,-0.0042),(0.27,-0.0048),
 (0.29,-0.0034),(0.29,-0.0040),(0.29,-0.0046),(0.31,-0.0032),(0.31,-0.0038),(0.31,-0.0044),
 (0.33,-0.0030),(0.33,-0.0036),(0.33,-0.0042),(0.35,-0.0029),(0.35,-0.0035),(0.35,-0.0041),
 (0.37,-0.0027),(0.37,-0.0033),(0.37,-0.0039),(0.39,-0.0026),(0.39,-0.0032),(0.39,-0.0038),
 (0.41,-0.0025),(0.41,-0.0031),(0.41,-0.0037),
 (0.43,-0.00265),(0.43,-0.00335),(0.45,-0.00245),(0.45,-0.00315),(0.47,-0.00235),(0.47,-0.00305),
 (0.49,-0.00225),(0.49,-0.00295),(0.51,-0.00215),(0.51,-0.00285),(0.53,-0.00205),(0.53,-0.00275),
 (0.55,-0.00195),(0.55,-0.00265),(0.57,-0.00185),(0.57,-0.00255),(0.59,-0.00175),(0.59,-0.00245),
 (0.61,-0.00165),(0.61,-0.00235),
 (0.63,-0.00165),(0.63,-0.00215),(0.65,-0.00155),(0.65,-0.00205),(0.67,-0.00135),(0.67,-0.00185),
 (0.69,-0.00125),(0.69,-0.00175),(0.71,-0.00115),(0.71,-0.00165),(0.73,-0.00105),(0.73,-0.00155),
 (0.75,-0.00095),(0.75,-0.00145),(0.77,-0.00085),(0.77,-0.00135),(0.79,-0.00075),(0.79,-0.00125),
 (0.81,-0.00065),(0.81,-0.00115),
 (0.83,-0.0008),(0.85,-0.0007),(0.87,-0.0006),(0.89,-0.0005),(0.91,-0.0004),(0.93,-0.0003),
 (0.95,-0.0002),(0.97,-0.0001),(0.99,0.0000),
]
inf_pv_0_spread = [
 (0.17,0.0010),(0.18,0.0010),(0.19,0.0011),(0.20,0.0012),(0.254,0.0017),(0.27,0.0020),
 (0.30,0.0018),(0.33,0.0022),(0.47,0.0008),(0.54,0.0008),(0.55,0.0009),(0.60,0.0008),
 (0.73,0.0005),(0.85,0.0009),(0.70,-0.0026),(0.555,-0.0053),(0.0065,-0.0074),(0.02,-0.0078),
 (0.03,-0.0080),(0.196,-0.0082),(0.32,-0.0013),(0.40,0.0010),(0.45,0.0009),(0.50,0.0012),
 (0.65,0.0006),
]
inf_pv_1_pts = [
 (0.006,-0.0037),(0.015,-0.0036),(0.03,-0.0037),(0.04,-0.0038),(0.015,-0.0059),(0.01,-0.0060),
 (0.02,-0.0063),(0.05,-0.0042),(0.055,-0.0050),(0.08,-0.0030),(0.09,-0.0016),(0.12,-0.0011),
 (0.13,-0.0019),(0.14,-0.0021),(0.105,-0.0035),(0.11,-0.0040),(0.19,-0.0026),(0.20,-0.0025),
 (0.24,-0.0016),(0.25,-0.0019),(0.29,-0.0003),(0.30,-0.0003),(0.35,-0.0007),(0.37,0.0005),
 (0.39,0.0002),(0.436,0.0002),(0.45,0.0002),(0.58,-0.0004),(0.65,0.0002),(0.66,0.0000),
 (0.78,0.0002),(0.79,0.0000),(0.056,-0.0082),(0.05,-0.0090),(0.09,-0.0073),(0.105,-0.0082),
 (0.14,-0.0087),(0.15,-0.0090),(0.17,-0.0075),(0.18,-0.0077),(0.21,-0.0064),(0.25,-0.0059),
 (0.26,-0.0057),(0.34,-0.0052),(0.36,-0.0054),(0.52,-0.0033),(0.60,-0.0019),(0.62,-0.0021),
 (0.74,-0.0011),(0.85,-0.0009),
 (0.07,-0.0045),(0.08,-0.0055),(0.09,-0.0062),(0.10,-0.0068),(0.07,-0.0065),(0.06,-0.0058),
 (0.12,-0.0058),(0.13,-0.0065),(0.16,-0.0070),(0.15,-0.0049),(0.17,-0.0043),(0.18,-0.0038),
 (0.20,-0.0044),(0.22,-0.0040),(0.23,-0.0035),(0.26,-0.0030),(0.28,-0.0032),(0.30,-0.0038),
 (0.32,-0.0028),(0.35,-0.0030),(0.38,-0.0025),(0.40,-0.0035),(0.42,-0.0023),(0.46,-0.0025),
 (0.50,-0.0022),(0.55,-0.0018),(0.58,-0.0024),(0.65,-0.0015),(0.70,-0.0012),(0.75,-0.0008),
 (0.80,-0.0005),(0.85,-0.0003),(0.88,-0.0001),(0.14,-0.0080),(0.12,-0.0085),(0.11,-0.0090),
 (0.13,-0.0093),(0.10,-0.0076),(0.08,-0.0078),(0.04,-0.0070),(0.03,-0.0050),(0.02,-0.0045),
 (0.045,-0.0055),(0.16,-0.0032),(0.10,-0.0025),(0.15,-0.0024),(0.21,-0.0027),(0.33,-0.0007),
 (0.36,-0.0005),(0.41,0.0001),(0.47,0.0003),(0.50,0.0000),(0.55,0.0001),(0.60,0.0001),
 (0.70,0.0000),(0.72,0.0001),(0.76,0.0000),(0.82,0.0001),(0.84,0.0000),
]

# ---------------- Panel 5: Fin. Openness vs p-value ----------------
fin_pv_0_lower = [
 (0.00,-0.049),(0.00,-0.054),(0.00,-0.060),(0.00,-0.065),
 (0.02,-0.052),(0.02,-0.057),(0.02,-0.063),(0.02,-0.068),
 (0.04,-0.052),(0.04,-0.057),(0.04,-0.063),(0.04,-0.068),
 (0.06,-0.051),(0.06,-0.056),(0.06,-0.062),(0.06,-0.067),
 (0.08,-0.049),(0.08,-0.054),(0.08,-0.060),(0.08,-0.065),
 (0.10,-0.048),(0.10,-0.053),(0.10,-0.059),(0.10,-0.064),
 (0.12,-0.046),(0.12,-0.051),(0.12,-0.057),(0.12,-0.062),
 (0.14,-0.045),(0.14,-0.050),(0.14,-0.056),(0.14,-0.061),
 (0.16,-0.043),(0.16,-0.048),(0.16,-0.054),(0.16,-0.059),
 (0.18,-0.042),(0.18,-0.047),(0.18,-0.053),(0.18,-0.058),
 (0.20,-0.040),(0.20,-0.045),(0.20,-0.051),(0.20,-0.056),
 (0.22,-0.038),(0.22,-0.043),(0.22,-0.049),(0.22,-0.054),
 (0.24,-0.037),(0.24,-0.042),(0.24,-0.048),(0.24,-0.053),
 (0.26,-0.035),(0.26,-0.040),(0.26,-0.046),(0.26,-0.051),
 (0.28,-0.033),(0.28,-0.038),(0.28,-0.044),(0.28,-0.049),
 (0.30,-0.032),(0.30,-0.037),(0.30,-0.043),(0.30,-0.048),
 (0.32,-0.032),(0.32,-0.038),(0.32,-0.044),(0.34,-0.031),(0.34,-0.037),(0.34,-0.043),
 (0.36,-0.029),(0.36,-0.035),(0.36,-0.041),(0.38,-0.028),(0.38,-0.034),(0.38,-0.040),
 (0.40,-0.027),(0.40,-0.033),(0.40,-0.039),(0.42,-0.025),(0.42,-0.031),(0.42,-0.037),
 (0.44,-0.024),(0.44,-0.030),(0.44,-0.036),(0.46,-0.023),(0.46,-0.029),(0.46,-0.035),
 (0.48,-0.022),(0.48,-0.028),(0.48,-0.034),(0.50,-0.021),(0.50,-0.027),(0.50,-0.033),
 (0.52,-0.019),(0.52,-0.025),(0.52,-0.031),(0.54,-0.018),(0.54,-0.024),(0.54,-0.030),
 (0.56,-0.017),(0.56,-0.023),(0.56,-0.029),(0.58,-0.016),(0.58,-0.022),(0.58,-0.028),
 (0.60,-0.015),(0.60,-0.021),(0.60,-0.027),(0.62,-0.016),(0.62,-0.020),(0.62,-0.024),
 (0.64,-0.014),(0.64,-0.018),(0.64,-0.022),(0.66,-0.013),(0.66,-0.017),(0.66,-0.021),
 (0.68,-0.012),(0.68,-0.016),(0.68,-0.020),(0.70,-0.011),(0.70,-0.015),(0.70,-0.019),
 (0.72,-0.010),(0.72,-0.014),(0.72,-0.018),(0.74,-0.008),(0.74,-0.012),(0.74,-0.016),
 (0.76,-0.007),(0.76,-0.011),(0.76,-0.015),(0.78,-0.006),(0.78,-0.010),(0.78,-0.014),
 (0.80,-0.005),(0.80,-0.009),(0.80,-0.013),(0.82,-0.006),(0.82,-0.008),(0.82,-0.010),
 (0.84,-0.005),(0.84,-0.007),(0.84,-0.009),(0.86,-0.004),(0.86,-0.006),(0.86,-0.008),
 (0.88,-0.003),(0.88,-0.005),(0.88,-0.007),(0.90,-0.002),(0.90,-0.004),(0.90,-0.006),
 (0.92,-0.001),(0.92,-0.003),(0.92,-0.005),(0.94,0.000),(0.94,-0.002),(0.94,-0.004),
 (0.96,0.001),(0.96,-0.001),(0.96,-0.003),(0.98,0.001),(0.98,-0.0005),(0.98,-0.002),
 (1.00,0.000),
]
fin_pv_0_lower_fill = [
 (0.01,-0.0537),(0.01,-0.059),(0.01,-0.0643),(0.03,-0.0547),(0.03,-0.060),(0.03,-0.0653),
 (0.05,-0.0537),(0.05,-0.059),(0.05,-0.0643),(0.07,-0.0527),(0.07,-0.058),(0.07,-0.0633),
 (0.09,-0.0507),(0.09,-0.056),(0.09,-0.0613),(0.11,-0.0487),(0.11,-0.054),(0.11,-0.0593),
 (0.13,-0.0477),(0.13,-0.053),(0.13,-0.0583),(0.15,-0.0467),(0.15,-0.052),(0.15,-0.0573),
 (0.17,-0.0447),(0.17,-0.050),(0.17,-0.0553),(0.19,-0.0437),(0.19,-0.049),(0.19,-0.0543),
 (0.21,-0.0417),(0.21,-0.047),(0.21,-0.0523),(0.23,-0.0402),(0.23,-0.0455),(0.23,-0.0508),
 (0.25,-0.0387),(0.25,-0.044),(0.25,-0.0493),(0.27,-0.0367),(0.27,-0.042),(0.27,-0.0473),
 (0.29,-0.0352),(0.29,-0.0405),(0.29,-0.0458),(0.31,-0.0337),(0.31,-0.039),(0.31,-0.0443),
 (0.33,-0.0345),(0.33,-0.0405),(0.35,-0.033),(0.35,-0.039),(0.37,-0.0315),(0.37,-0.0375),
 (0.39,-0.0305),(0.39,-0.0365),(0.41,-0.029),(0.41,-0.035),(0.43,-0.0275),(0.43,-0.0335),
 (0.45,-0.0265),(0.45,-0.0325),(0.47,-0.0255),(0.47,-0.0315),(0.49,-0.0245),(0.49,-0.0305),
 (0.51,-0.023),(0.51,-0.029),(0.53,-0.0215),(0.53,-0.0275),(0.55,-0.0205),(0.55,-0.0265),
 (0.57,-0.0195),(0.57,-0.0255),(0.59,-0.0185),(0.59,-0.0245),(0.61,-0.0175),(0.61,-0.0235),
 (0.63,-0.017),(0.63,-0.021),(0.65,-0.0155),(0.65,-0.0195),(0.67,-0.0145),(0.67,-0.0185),
 (0.69,-0.0135),(0.69,-0.0175),(0.71,-0.0125),(0.71,-0.0165),(0.73,-0.011),(0.73,-0.015),
 (0.75,-0.0095),(0.75,-0.0135),(0.77,-0.0085),(0.77,-0.0125),(0.79,-0.0075),(0.79,-0.0115),
 (0.81,-0.0065),(0.81,-0.0105),
 (0.83,-0.0075),(0.85,-0.0065),(0.87,-0.0055),(0.89,-0.0045),(0.91,-0.0035),(0.93,-0.0025),
 (0.95,-0.0015),(0.97,-0.0010),(0.99,-0.0002),
]
fin_pv_0_upper = [
 (0.00,0.076),(0.00,0.072),(0.00,0.068),(0.01,0.070),(0.01,0.066),(0.01,0.062),
 (0.02,0.066),(0.02,0.062),(0.02,0.058),(0.03,0.060),(0.03,0.056),(0.05,0.056),(0.05,0.050),
 (0.07,0.051),(0.07,0.046),(0.09,0.047),(0.09,0.042),(0.11,0.044),(0.11,0.039),(0.13,0.041),
 (0.13,0.036),(0.15,0.038),(0.15,0.034),(0.17,0.036),(0.17,0.032),(0.20,0.034),(0.20,0.029),
 (0.23,0.031),(0.23,0.027),(0.26,0.030),(0.26,0.026),(0.29,0.028),(0.29,0.024),(0.32,0.027),
 (0.32,0.023),(0.35,0.026),(0.35,0.022),(0.38,0.025),(0.38,0.021),(0.41,0.024),(0.41,0.020),
 (0.44,0.023),(0.44,0.019),(0.47,0.022),(0.47,0.018),(0.50,0.021),(0.50,0.017),(0.53,0.020),
 (0.53,0.016),(0.56,0.019),(0.56,0.015),(0.59,0.018),(0.59,0.014),(0.62,0.017),(0.62,0.013),
 (0.65,0.015),(0.65,0.012),(0.68,0.014),(0.68,0.011),(0.71,0.013),(0.71,0.010),(0.74,0.012),
 (0.74,0.009),(0.77,0.010),(0.77,0.008),(0.80,0.009),(0.80,0.007),(0.83,0.008),(0.83,0.006),
 (0.86,0.006),(0.86,0.005),(0.89,0.005),(0.89,0.003),(0.92,0.003),(0.92,0.002),(0.95,0.002),
 (0.95,0.001),(0.98,0.001),(0.98,0.000),
]
fin_pv_0_spread = [
 (0.03,-0.017),(0.04,-0.015),(0.035,-0.019),(0.00,-0.035),(0.00,-0.042),(0.005,-0.048),
 (0.055,-0.032),(0.06,-0.036),(0.19,-0.024),(0.28,-0.024),(0.016,-0.070),(0.055,0.066),
 (0.11,0.058),(0.155,0.058),(0.35,0.018),(0.38,0.021),(0.31,0.009),(0.82,0.021),(0.47,0.022),
 (0.50,0.018),
]
fin_pv_1_pts = [
 (0.00,0.071),(0.016,0.066),(0.03,0.060),(0.008,0.046),(0.00,0.039),(0.016,0.038),
 (0.024,0.031),(0.063,0.038),(0.07,0.036),(0.094,0.031),(0.126,0.0215),(0.14,0.014),
 (0.117,0.014),(0.087,0.051),(0.11,0.055),(0.14,0.044),(0.157,0.053),(0.19,0.047),(0.204,0.045),
 (0.236,0.041),(0.27,0.037),(0.30,0.033),(0.346,0.037),(0.36,0.035),(0.41,0.034),(0.47,0.035),
 (0.50,0.037),(0.566,0.028),(0.63,0.021),(0.66,0.019),(0.72,0.017),(0.786,0.012),(0.85,0.004),
 (0.895,-0.007),(0.83,-0.010),(0.75,-0.012),(0.63,-0.016),(0.64,-0.023),(0.52,-0.034),
 (0.47,-0.004),(0.48,-0.005),(0.49,-0.004),(0.60,-0.002),(0.61,0.001),(0.63,0.001),(0.27,0.014),
 (0.28,0.012),(0.385,0.009),(0.38,0.021),(0.25,0.016),
 (0.01,0.058),(0.02,0.055),(0.04,0.050),(0.05,0.045),(0.06,0.050),(0.08,0.042),(0.10,0.040),
 (0.12,0.038),(0.15,0.035),(0.17,0.032),(0.20,0.030),(0.22,0.032),(0.25,0.028),(0.32,0.028),
 (0.40,0.026),(0.44,0.025),(0.55,0.020),(0.60,0.018),(0.68,0.015),(0.70,0.012),(0.75,0.010),
 (0.80,0.008),(0.82,0.005),(0.88,0.003),(0.90,0.002),(0.92,0.001),(0.93,0.000),(0.02,0.040),
 (0.05,0.033),(0.07,0.026),(0.09,0.022),(0.11,0.018),(0.62,0.003),(0.65,0.002),(0.68,0.001),
 (0.70,0.000),(0.72,0.001),(0.76,-0.001),(0.80,-0.006),(0.85,-0.008),(0.70,-0.014),
]

# ---------------- Panel 6: Trade Openness vs p-value ----------------
trd_pv_0_band = [
 (0.00,0.300),(0.00,0.295),(0.00,0.290),(0.005,0.280),(0.00,0.275),(0.005,0.270),(0.01,0.265),
 (0.00,0.260),(0.01,0.255),(0.00,0.245),(0.005,0.240),(0.00,0.230),(0.005,0.220),(0.00,0.210),
 (0.005,0.200),
 (0.02,0.280),(0.02,0.268),(0.02,0.256),(0.02,0.244),
 (0.04,0.268),(0.04,0.256),(0.04,0.244),(0.04,0.232),
 (0.06,0.258),(0.06,0.246),(0.06,0.234),(0.06,0.222),
 (0.08,0.249),(0.08,0.237),(0.08,0.225),(0.08,0.213),
 (0.10,0.240),(0.10,0.228),(0.10,0.216),(0.10,0.204),
 (0.12,0.231),(0.12,0.219),(0.12,0.207),(0.12,0.195),
 (0.14,0.222),(0.14,0.210),(0.14,0.198),(0.14,0.186),
 (0.16,0.214),(0.16,0.202),(0.16,0.190),(0.16,0.178),
 (0.18,0.206),(0.18,0.194),(0.18,0.182),(0.18,0.170),
 (0.20,0.198),(0.20,0.186),(0.20,0.174),(0.20,0.162),
 (0.22,0.190),(0.22,0.178),(0.22,0.166),(0.22,0.154),
 (0.24,0.183),(0.24,0.171),(0.24,0.159),(0.24,0.147),
 (0.26,0.176),(0.26,0.164),(0.26,0.152),(0.26,0.140),
 (0.28,0.168),(0.28,0.156),(0.28,0.144),(0.28,0.132),
 (0.30,0.161),(0.30,0.149),(0.30,0.137),(0.30,0.125),
 (0.32,0.148),(0.32,0.136),(0.32,0.124),(0.34,0.141),(0.34,0.129),(0.34,0.117),
 (0.36,0.134),(0.36,0.122),(0.36,0.110),(0.38,0.128),(0.38,0.116),(0.38,0.104),
 (0.40,0.122),(0.40,0.110),(0.40,0.098),(0.42,0.115),(0.42,0.103),(0.42,0.091),
 (0.44,0.109),(0.44,0.097),(0.44,0.085),(0.46,0.103),(0.46,0.091),(0.46,0.079),
 (0.48,0.097),(0.48,0.085),(0.48,0.073),(0.50,0.091),(0.50,0.079),(0.50,0.067),
 (0.52,0.086),(0.52,0.074),(0.52,0.062),(0.54,0.081),(0.54,0.069),(0.54,0.057),
 (0.56,0.076),(0.56,0.064),(0.56,0.052),(0.58,0.071),(0.58,0.059),(0.58,0.047),
 (0.60,0.067),(0.60,0.055),(0.60,0.043),(0.62,0.059),(0.62,0.051),(0.62,0.043),
 (0.64,0.055),(0.64,0.047),(0.64,0.039),(0.66,0.051),(0.66,0.043),(0.66,0.035),
 (0.68,0.047),(0.68,0.039),(0.68,0.031),(0.70,0.044),(0.70,0.036),(0.70,0.028),
 (0.72,0.041),(0.72,0.033),(0.72,0.025),(0.74,0.037),(0.74,0.029),(0.74,0.021),
 (0.76,0.034),(0.76,0.026),(0.76,0.018),(0.78,0.031),(0.78,0.023),(0.78,0.015),
 (0.80,0.028),(0.80,0.020),(0.80,0.012),(0.82,0.021),(0.82,0.017),(0.82,0.013),
 (0.84,0.018),(0.84,0.014),(0.84,0.010),(0.86,0.016),(0.86,0.012),(0.86,0.008),
 (0.88,0.013),(0.88,0.009),(0.88,0.005),(0.90,0.011),(0.90,0.007),(0.90,0.003),
 (0.92,0.009),(0.92,0.005),(0.92,0.001),(0.94,0.008),(0.94,0.004),(0.94,0.000),
 (0.96,0.006),(0.96,0.002),(0.96,-0.002),(0.98,0.004),(0.98,0.001),(0.98,-0.002),
 (1.00,0.002),(1.00,0.000),(1.00,-0.002),
]
trd_pv_0_band_fill = [
 (0.03,0.268),(0.03,0.256),(0.03,0.244),(0.05,0.257),(0.05,0.245),(0.05,0.233),
 (0.07,0.248),(0.07,0.236),(0.07,0.224),(0.09,0.239),(0.09,0.227),(0.09,0.215),
 (0.11,0.230),(0.11,0.218),(0.11,0.206),(0.13,0.221),(0.13,0.209),(0.13,0.197),
 (0.15,0.212),(0.15,0.200),(0.15,0.188),(0.17,0.204),(0.17,0.192),(0.17,0.180),
 (0.19,0.196),(0.19,0.184),(0.19,0.172),(0.21,0.188),(0.21,0.176),(0.21,0.164),
 (0.23,0.181),(0.23,0.169),(0.23,0.157),(0.25,0.174),(0.25,0.162),(0.25,0.150),
 (0.27,0.166),(0.27,0.154),(0.27,0.142),(0.29,0.159),(0.29,0.147),(0.29,0.135),
 (0.31,0.152),(0.31,0.140),(0.31,0.128),
 (0.33,0.139),(0.33,0.127),(0.35,0.132),(0.35,0.120),(0.37,0.125),(0.37,0.113),
 (0.39,0.119),(0.39,0.107),(0.41,0.113),(0.41,0.101),(0.43,0.106),(0.43,0.094),
 (0.45,0.100),(0.45,0.088),(0.47,0.094),(0.47,0.082),(0.49,0.088),(0.49,0.076),
 (0.51,0.083),(0.51,0.071),(0.53,0.078),(0.53,0.066),(0.55,0.073),(0.55,0.061),
 (0.57,0.068),(0.57,0.056),(0.59,0.063),(0.59,0.051),(0.61,0.059),(0.61,0.047),
 (0.63,0.053),(0.63,0.045),(0.65,0.049),(0.65,0.041),(0.67,0.045),(0.67,0.037),
 (0.69,0.042),(0.69,0.034),(0.71,0.039),(0.71,0.031),(0.73,0.035),(0.73,0.027),
 (0.75,0.032),(0.75,0.024),(0.77,0.029),(0.77,0.021),(0.79,0.026),(0.79,0.018),
 (0.81,0.023),(0.81,0.015),
 (0.83,0.016),(0.85,0.013),(0.87,0.011),(0.89,0.008),(0.91,0.006),(0.93,0.005),
 (0.95,0.003),(0.97,0.002),(0.99,0.001),
]
trd_pv_0_lower = [
 (0.60,-0.018),(0.61,-0.017),(0.62,-0.019),(0.64,-0.018),(0.66,-0.020),(0.68,-0.020),
 (0.70,-0.022),(0.71,-0.023),(0.72,-0.025),(0.73,-0.026),(0.74,-0.024),(0.75,-0.020),
 (0.76,-0.019),(0.78,-0.016),(0.80,-0.015),(0.82,-0.013),(0.84,-0.011),(0.86,-0.010),
 (0.88,-0.008),(0.90,-0.006),(0.92,-0.004),(0.94,-0.003),(0.96,-0.002),(0.98,-0.001),
 (0.77,-0.022),(0.79,-0.019),(0.81,-0.017),(0.83,-0.015),(0.85,-0.013),(0.87,-0.011),
 (0.89,-0.009),
]
trd_pv_0_spread = [
 (0.17,0.235),(0.076,0.188),(0.013,0.155),(0.006,0.140),(0.01,0.138),(0.096,0.101),
 (0.12,0.148),(0.175,0.094),(0.29,0.091),(0.59,0.110),(0.208,0.120),(0.25,0.110),(0.35,0.085),
 (0.40,0.075),(0.45,0.070),(0.16,0.150),(0.10,0.170),(0.30,0.110),(0.14,0.140),(0.06,0.175),
 (0.08,0.165),
]
trd_pv_1_pts = [
 (0.00,0.240),(0.00,0.220),(0.007,0.198),(0.007,0.180),(0.013,0.172),(0.013,0.190),(0.00,0.180),
 (0.018,0.125),(0.018,0.140),(0.035,0.156),(0.062,0.146),(0.084,0.135),(0.055,0.120),
 (0.018,0.107),(0.035,0.089),(0.084,0.117),(0.128,0.120),(0.165,0.125),(0.062,0.070),
 (0.128,0.070),(0.17,0.072),(0.216,0.069),(0.21,0.099),(0.267,0.133),(0.31,0.167),(0.34,0.170),
 (0.32,0.073),(0.32,0.063),(0.37,0.027),(0.37,0.025),(0.41,0.025),(0.43,0.047),(0.41,0.088),
 (0.44,0.080),(0.49,0.110),(0.50,0.127),(0.51,0.106),(0.55,0.010),(0.59,0.028),(0.59,0.024),
 (0.60,0.010),(0.64,0.010),(0.67,0.005),(0.70,0.010),(0.71,0.020),(0.72,0.052),(0.75,0.010),
 (0.79,0.000),(0.80,0.000),(0.81,0.000),(0.83,0.000),(0.84,0.000),(0.86,0.000),(0.88,0.000),
 (0.90,0.000),(0.82,0.008),(0.77,-0.016),(0.018,0.240),(0.025,0.250),(0.09,0.208),(0.128,0.198),
 (0.15,0.214),(0.18,0.195),(0.22,0.195),(0.25,0.180),(0.20,0.170),(0.30,0.155),(0.35,0.140),
 (0.40,0.115),(0.45,0.105),(0.005,0.260),(0.01,0.250),(0.04,0.230),(0.06,0.220),(0.03,0.200),
 (0.05,0.190),(0.02,0.210),(0.10,0.125),(0.38,0.080),(0.58,0.060),(0.62,0.045),(0.68,0.040),
 (0.72,0.035),(0.78,0.020),(0.85,0.010),(0.70,-0.010),
]

# ---------------- figure ----------------
sns.set_theme(style="white")
plt.rcParams["font.family"] = ["Liberation Sans", "DejaVu Sans"]
plt.rcParams["mathtext.fontset"] = "custom"
plt.rcParams["mathtext.rm"] = "Liberation Sans"

W, H = 984, 702
fig = plt.figure(figsize=(W / 100, H / 100), dpi=100)

col_left = [89.0, 419.3, 743.3]
col_width = [223.0, 234.0, 251.2]
row_top = [46.7, 383.3]
row_height = [201.6, 233.4]
ylab_off = [-60.5, -50.6, -34.6]
leg_cx = [202.5, 537.5, 870.0]
leg_cy = [325.0, 690.0]

def stata_fmt(v):
    if abs(v) < 1e-12:
        return "0"
    s = ("%.4f" % abs(v)).rstrip("0").rstrip(".")
    if s.startswith("0."):
        s = s[1:]
    return ("\u2212" if v < 0 else "") + s

panels = [
    dict(r=0, c=0, g=inf_pp_1_band + inf_pp_1_spread, n=inf_pp_0_band + inf_pp_0_spread,
         ylim=(-0.01086, 0.00588), yt=[-0.01, -0.005, 0, 0.005],
         hl=[(0, "-"), (-0.0017, "--")], vl=[], title="Inflation", xl="Predicted Probability"),
    dict(r=0, c=1, g=fin_pp_1_band + fin_pp_1_spread, n=fin_pp_0_band + fin_pp_0_spread,
         ylim=(-0.1114, 0.1117), yt=[-0.1, -0.05, 0, 0.05, 0.1],
         hl=[(0, "-"), (-0.011, "--")], vl=[], title="Fin. Openness", xl="Predicted Probability"),
    dict(r=0, c=2, g=trd_pp_1_band + trd_pp_1_spread, n=trd_pp_0_band + trd_pp_0_branch + trd_pp_0_spread,
         ylim=(-0.048, 0.320), yt=[0, 0.1, 0.2, 0.3],
         hl=[(0, "-"), (0.153, "--")], vl=[], title="Trade Openness", xl="Predicted Probability"),
    dict(r=1, c=0, g=inf_pv_1_pts,
         n=inf_pv_0_upper + inf_pv_0_upper_fill + inf_pv_0_lower + inf_pv_0_lower_fill + inf_pv_0_spread,
         ylim=(-0.0108, 0.00576), yt=[-0.01, -0.005, 0, 0.005],
         hl=[(0, "-")], vl=[(0.05, "-"), (0.39, "--")], title=None, xl="p\u2212value"),
    dict(r=1, c=1, g=fin_pv_1_pts,
         n=fin_pv_0_lower + fin_pv_0_lower_fill + fin_pv_0_upper + fin_pv_0_spread,
         ylim=(-0.1108, 0.110), yt=[-0.1, -0.05, 0, 0.05, 0.1],
         hl=[(0, "-")], vl=[(0.05, "-"), (0.61, "--")], title=None, xl="p\u2212value"),
    dict(r=1, c=2, g=trd_pv_1_pts,
         n=trd_pv_0_band + trd_pv_0_band_fill + trd_pv_0_lower + trd_pv_0_spread,
         ylim=(-0.047, 0.318), yt=[0, 0.1, 0.2, 0.3],
         hl=[(0, "-")], vl=[(0.05, "-"), (0.10, "--")], title=None, xl="p\u2212value"),
]

xt = [0, 0.2, 0.4, 0.6, 0.8, 1]
FS = 12.5
TFS = 13.5
SPINE = "#9a9a9a"

def ref_line(ax, v, style, horiz):
    kw = dict(color="black", lw=1.1, zorder=2)
    if style == "--":
        kw.update(color="#2a2a2a", lw=1.0, dashes=(10.8, 3.6))
    if horiz:
        ax.axhline(v, **kw)
    else:
        ax.axvline(v, **kw)

for p in panels:
    r, c = p["r"], p["c"]
    left = col_left[c] / W
    bottom = 1 - (row_top[r] + row_height[r]) / H
    ax = fig.add_axes([left, bottom, col_width[c] / W, row_height[r] / H])

    dg = pd.DataFrame(p["g"], columns=["prob", "effect"])
    dn = pd.DataFrame(p["n"], columns=["prob", "effect"])
    sns.scatterplot(data=dg, x="prob", y="effect", ax=ax, marker="x", s=20,
                    color=GREEN, linewidth=1.25, legend=False, zorder=3)
    pc = ax.collections[-1]
    pc.set_edgecolor(GREEN); pc.set_facecolor(GREEN); pc.set_linewidth(1.25)
    sns.scatterplot(data=dn, x="prob", y="effect", ax=ax, marker="o", s=26,
                    color=NAVY, legend=False, zorder=4)
    pc = ax.collections[-1]
    pc.set_facecolor("none"); pc.set_edgecolor(NAVY); pc.set_linewidth(1.3)

    for v, st in p["hl"]:
        ref_line(ax, v, st, True)
    for v, st in p["vl"]:
        ref_line(ax, v, st, False)

    ax.set_xlim(-0.054, 1.05)
    ax.set_ylim(*p["ylim"])
    ax.set_xticks(xt)
    ax.set_xticklabels([stata_fmt(v) for v in xt])
    ax.set_yticks(p["yt"])
    ax.set_yticklabels([stata_fmt(v) for v in p["yt"]])
    ax.yaxis.grid(True, color="#e6e6e6", lw=1.1)
    ax.xaxis.grid(False)
    ax.set_axisbelow(True)
    for s in ["top", "right"]:
        ax.spines[s].set_visible(False)
    for s in ["left", "bottom"]:
        ax.spines[s].set_color(SPINE)
        ax.spines[s].set_linewidth(1.0)
    ax.tick_params(axis="both", which="major", direction="out", length=3.5, width=0.9,
                   color=SPINE, labelsize=TFS, labelcolor="#111111",
                   left=True, bottom=True)
    ax.tick_params(axis="x", pad=2)
    ax.tick_params(axis="y", pad=0.5)

    ax.set_xlabel(p["xl"], fontsize=FS, color="#111111")
    ax.xaxis.set_label_coords(0.5, -31.7 / row_height[r])
    ax.set_ylabel("Partial Effect", fontsize=FS, color="#111111")
    ax.yaxis.set_label_coords(ylab_off[c] / col_width[c], 0.5)
    if p["title"]:
        ax.set_title(p["title"], fontsize=17.7, pad=7.7, color="#111111")

    handles = [
        Line2D([], [], ls="none", marker="x", ms=4.2, mew=1.2, color=GREEN),
        Line2D([], [], ls="none", marker="o", ms=4.8, mew=1.2, mfc="none", mec=NAVY),
    ]
    labels = ["y$_{\\text{i,t\u22121}}$=1", "y$_{\\text{i,t\u22121}}$=0"]
    fig.legend(handles, labels, loc="center",
               bbox_to_anchor=(leg_cx[c] / W, 1 - leg_cy[r] / H),
               ncol=2, frameon=False, fontsize=FS, handlelength=0.8,
               handletextpad=0.75, columnspacing=1.7, borderpad=0, borderaxespad=0)

fig.savefig("out.png", dpi=100)
